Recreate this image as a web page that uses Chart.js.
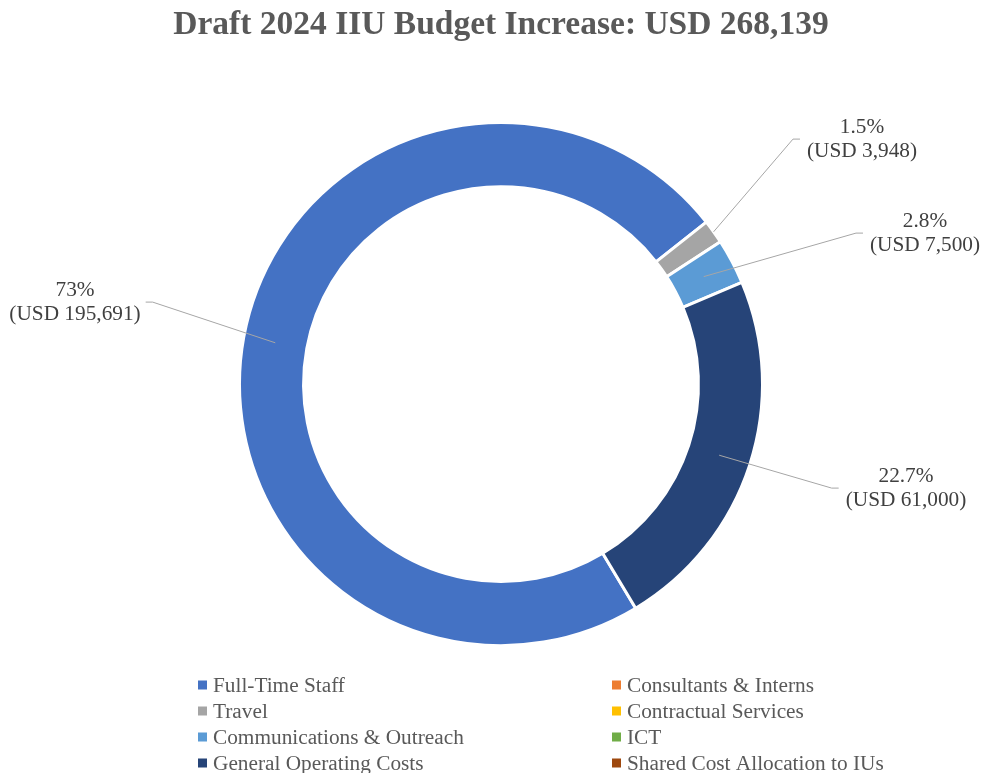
<!DOCTYPE html>
<html>
<head>
<meta charset="utf-8">
<title>Draft 2024 IIU Budget Increase</title>
<script src="https://cdn.jsdelivr.net/npm/chart.js@4.4.1/dist/chart.umd.min.js"></script>
<style>
  html, body { margin: 0; padding: 0; background: #ffffff; overflow: hidden; }
  #wrap { position: relative; width: 981px; height: 773px; }
</style>
</head>
<body>
<div id="wrap"><canvas id="budget" width="981" height="773"></canvas></div>
<script>
// Budget lines (USD)
const categories = [
  'Full-Time Staff',
  'Consultants & Interns',
  'Travel',
  'Contractual Services',
  'Communications & Outreach',
  'ICT',
  'General Operating Costs',
  'Shared Cost Allocation to IUs'
];
const increaseUSD = [195691, 0, 3948, 0, 7500, 0, 61000, 0];
const sliceColors = ['#4472C4', '#ED7D31', '#A5A5A5', '#FFC000', '#5B9BD5', '#70AD47', '#264478', '#9E480E'];

const total = increaseUSD.reduce((a, b) => a + b, 0);
const titleText = 'Draft 2024 IIU Budget Increase: USD ' + total.toLocaleString('en-US');

// Where each data label sits relative to the doughnut centre, and where its leader line starts
const labelPlacement = {
  0: { dx: -426, dy: -82, anchor: 'mid' },
  2: { dx: 361, dy: -245, anchor: 'outer' },
  4: { dx: 424, dy: -151, anchor: 'mid' },
  6: { dx: 405, dy: 104, anchor: 'mid' }
};

const serif = '"Liberation Serif", "DejaVu Serif", serif';

function fmtPct(v) {
  const p = v / total * 100;
  const r = Math.round(p * 10) / 10;
  return (Number.isInteger(r) ? r.toFixed(0) : r.toFixed(1)) + '%';
}

const calloutLabels = {
  id: 'calloutLabels',
  afterDatasetsDraw(chart) {
    const ctx = chart.ctx;
    const meta = chart.getDatasetMeta(0);
    ctx.save();
    ctx.font = '21.3px ' + serif;
    ctx.textAlign = 'center';
    ctx.textBaseline = 'middle';
    const lh = 24;
    increaseUSD.forEach((v, i) => {
      const place = labelPlacement[i];
      if (!v || !place) return;
      const arc = meta.data[i];
      const a = (arc.startAngle + arc.endAngle) / 2;
      const r = place.anchor === 'outer' ? arc.outerRadius : (arc.outerRadius + arc.innerRadius) / 2;
      const ax = arc.x + Math.cos(a) * r;
      const ay = arc.y + Math.sin(a) * r;
      const lx = arc.x + place.dx;
      const ly = arc.y + place.dy;
      const l1 = fmtPct(v);
      const l2 = '(USD ' + v.toLocaleString('en-US') + ')';
      const w = Math.max(ctx.measureText(l1).width, ctx.measureText(l2).width);
      const right = lx > ax;
      const edge = right ? lx - w / 2 - 7 : lx + w / 2 + 5;
      const elbow = right ? edge - 7 : edge + 7;
      ctx.strokeStyle = '#A6A6A6';
      ctx.lineWidth = 1;
      ctx.beginPath();
      ctx.moveTo(ax, ay);
      ctx.lineTo(elbow, ly);
      ctx.lineTo(edge, ly);
      ctx.stroke();
      ctx.fillStyle = '#404040';
      ctx.fillText(l1, lx, ly - lh / 2);
      ctx.fillText(l2, lx, ly + lh / 2);
    });
    ctx.restore();
  }
};

const gridLegend = {
  id: 'gridLegend',
  afterDraw(chart) {
    const ctx = chart.ctx;
    const labels = chart.data.labels;
    const colors = chart.data.datasets[0].backgroundColor;
    const colX = [198, 612];
    const rowY0 = 685, rowStep = 26;
    ctx.save();
    ctx.font = '21.3px ' + serif;
    ctx.textBaseline = 'middle';
    ctx.textAlign = 'left';
    labels.forEach((lab, i) => {
      const x = colX[i % 2];
      const y = rowY0 + Math.floor(i / 2) * rowStep;
      ctx.fillStyle = colors[i];
      ctx.fillRect(x, y - 4.5, 9, 9);
      ctx.fillStyle = '#595959';
      ctx.fillText(lab, x + 15, y + 1);
    });
    ctx.restore();
  }
};

new Chart(document.getElementById('budget'), {
  type: 'doughnut',
  data: {
    labels: categories,
    datasets: [{
      data: increaseUSD,
      backgroundColor: sliceColors,
      borderColor: '#ffffff',
      borderWidth: 3,
      radius: 261.5,
      cutout: '75.5%'
    }]
  },
  options: {
    responsive: false,
    animation: false,
    rotation: 149,
    layout: { padding: { left: 21, right: 0, top: 0, bottom: 50 } },
    plugins: {
      legend: { display: false },
      tooltip: { enabled: false },
      title: {
        display: true,
        text: titleText,
        color: '#595959',
        font: { family: serif, size: 33.5, weight: 'bold' },
        padding: { top: 5, bottom: 0 }
      }
    }
  },
  plugins: [calloutLabels, gridLegend]
});
</script>
</body>
</html>
